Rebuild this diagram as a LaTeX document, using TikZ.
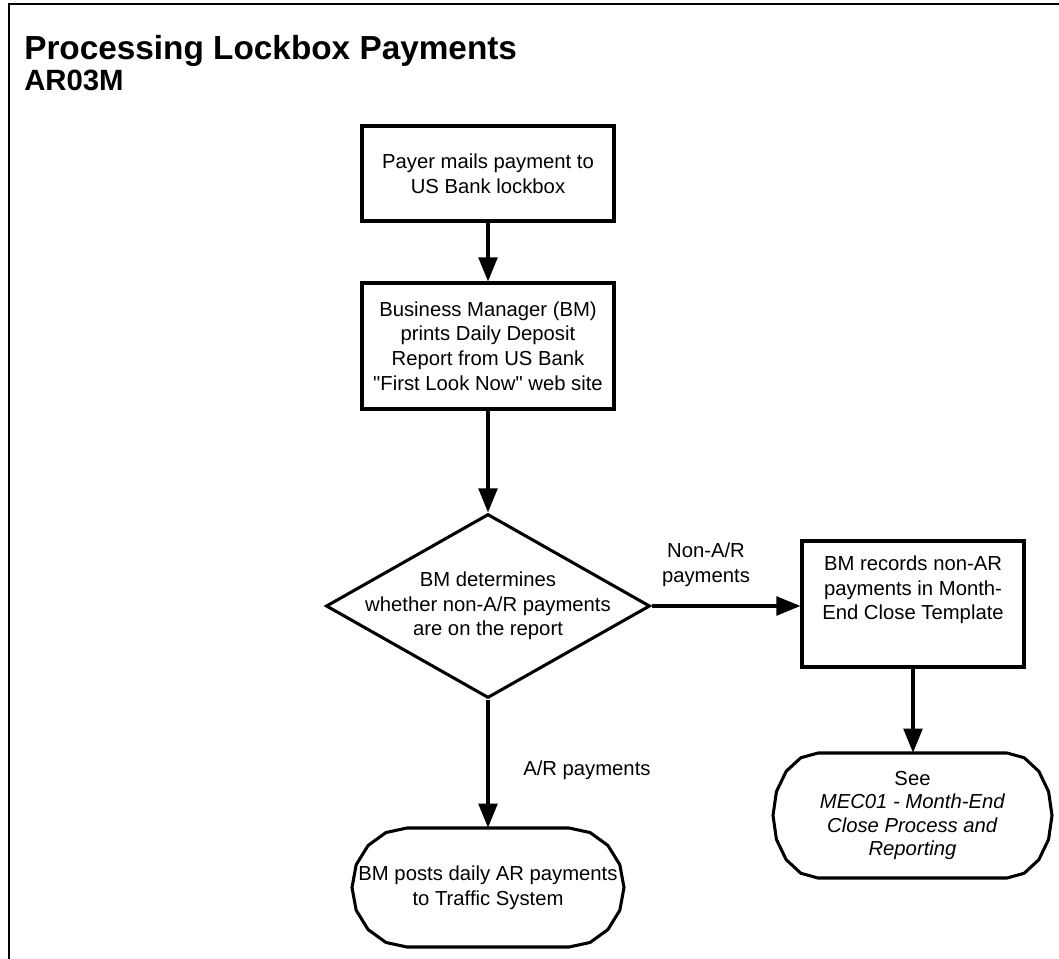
\documentclass[tikz,border=0pt]{standalone}
\usepackage{fontspec}
\setmainfont{Liberation Sans}[Ligatures=TeXOff]
\usetikzlibrary{arrows.meta,shapes.geometric,calc}
\newcommand\termoutline[4]{%
  \draw[termline] ($(#1.center)+(-#2,-#4)$)
    \foreach \i in {0,...,8}{ -- ($(#1.center)+({#2+#3*cos(-90+22.5*\i)},{#4*sin(-90+22.5*\i)})$) }
    \foreach \i in {0,...,8}{ -- ($(#1.center)+({-#2+#3*cos(90+22.5*\i)},{#4*sin(90+22.5*\i)})$) }
    -- cycle;}
\begin{document}
\begin{tikzpicture}[x=0.75pt,y=-0.75pt,
  every node/.style={font=\fontsize{15.2}{18.5}\selectfont, align=center, inner sep=0pt},
  procbox/.style={draw, line width=2.3pt, rectangle},
  decision/.style={draw, line width=2.3pt, diamond},
  termline/.style={line width=2.3pt, line join=round},
  arr/.style={line width=2.4pt, -{Triangle[length=18pt,width=14pt]}},
  frameline/.style={line width=1.6pt},
  titlefont/.style={font=\fontsize{25}{29}\selectfont\bfseries},
  codefont/.style={font=\fontsize{22}{26}\selectfont\bfseries}
]
\useasboundingbox (0,0) rectangle (1059,959);
\draw[frameline] (9,962) -- (9,4) -- (1062,4);

\node[titlefont, anchor=base west] (title) at (24,60) {Processing Lockbox Payments};
\node[codefont, anchor=base west] (code) at (24,91) {AR03M};

\node[procbox, minimum width=189pt, minimum height=71.25pt] (b1) at (488,173.5)
  {Payer mails payment to\\US Bank lockbox};
\node[procbox, minimum width=189pt, minimum height=94.5pt] (b2) at (488,346)
  {Business Manager (BM)\\prints Daily Deposit\\Report from US Bank\\"First Look Now" web site};
\node[decision, minimum width=243pt, minimum height=138pt,
  label={[align=center]center:{BM determines\\whether non-A/R payments\\are on the report}}] (d) at (488,606) {};
\node[procbox, minimum width=166.5pt, minimum height=94.5pt,
  label={[align=center,yshift=10.5pt]center:{BM records non-AR\\payments in Month-\\End Close Template}}] (b3) at (913,604) {};
\node[minimum width=204pt, minimum height=89.25pt] (t1) at (488,887.5)
  {BM posts daily AR payments\\to Traffic System};
\node[minimum width=209.25pt, minimum height=93.75pt, font=\fontsize{15.2}{17.5}\selectfont] (t2) at (912.5,815.5)
  {See\\\textit{MEC01 - Month-End}\\\textit{Close Process and}\\\textit{Reporting}};
\termoutline{t1}{81}{55}{59.5}
\termoutline{t2}{94.5}{45}{62.5}

\draw[arr] (b1) -- (b2);
\draw[arr] (b2) -- (d);
\draw[arr] (d.east) -- (d.east -| b3.west);
\draw[arr] (d) -- (t1);
\draw[arr] (b3.south) -- (b3.south |- t2.north);

\node (lnon) at (706,565) {Non-A/R\\payments};
\node[anchor=west] (lar) at (523,770) {A/R payments};
\end{tikzpicture}
\end{document}
